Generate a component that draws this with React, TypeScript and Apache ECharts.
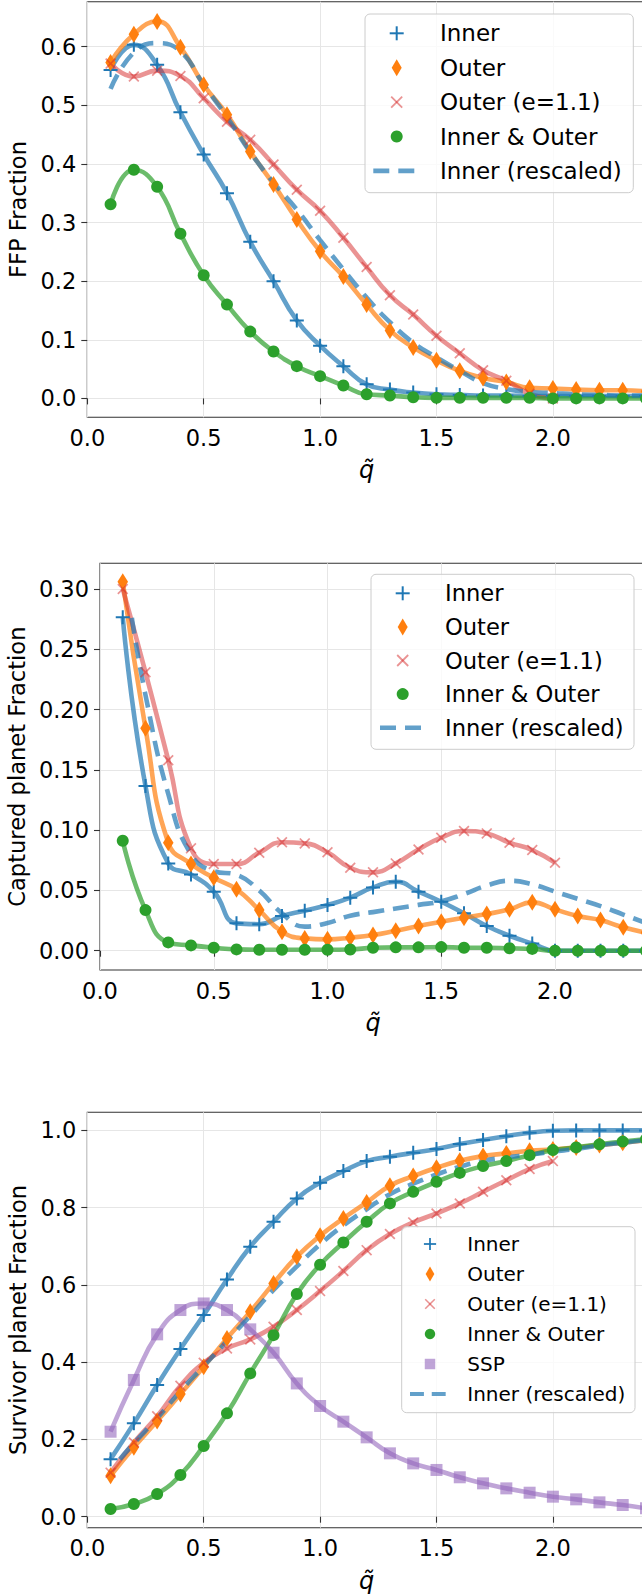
import React, { useEffect, useRef } from 'react';
import * as echarts from 'echarts';

// ---- data -------------------------------------------------------------
const Q = [0.1, 0.2, 0.3, 0.4, 0.5, 0.6, 0.7, 0.8, 0.9, 1.0, 1.1, 1.2, 1.3, 1.4, 1.5, 1.6, 1.7, 1.8, 1.9, 2.0, 2.1, 2.2, 2.3, 2.4];
const Q_E = [0.1, 0.2, 0.3, 0.4, 0.5, 0.6, 0.7, 0.8, 0.9, 1.0, 1.1, 1.2, 1.3, 1.4, 1.5, 1.6, 1.7, 1.8, 1.9, 2.0];
const Q_RESCALED_LATE = [0.14, 0.2, 0.3, 0.4, 0.5, 0.6, 0.7, 0.8, 0.9, 1.0, 1.1, 1.2, 1.3, 1.4, 1.5, 1.6, 1.7, 1.8, 1.9, 2.0, 2.1, 2.2, 2.3, 2.4];

// FFP fraction
const ffpInner = [0.56, 0.603, 0.569, 0.488, 0.416, 0.35, 0.267, 0.2, 0.133, 0.09, 0.055, 0.024, 0.015, 0.01, 0.007, 0.006, 0.005, 0.005, 0.004, 0.004, 0.004, 0.004, 0.004, 0.004];
const ffpOuter = [0.573, 0.621, 0.643, 0.599, 0.535, 0.484, 0.421, 0.365, 0.305, 0.251, 0.208, 0.16, 0.116, 0.087, 0.065, 0.047, 0.035, 0.028, 0.018, 0.017, 0.015, 0.014, 0.014, 0.012];
const ffpOuterE = [0.571, 0.549, 0.559, 0.55, 0.512, 0.472, 0.441, 0.399, 0.356, 0.32, 0.274, 0.224, 0.176, 0.143, 0.107, 0.077, 0.048, 0.03, 0.008, 0.0];
const ffpBoth = [0.331, 0.39, 0.361, 0.281, 0.21, 0.16, 0.114, 0.08, 0.055, 0.038, 0.022, 0.007, 0.005, 0.002, 0.001, 0.001, 0.001, 0.001, 0.001, 0.0, 0.0, 0.0, 0.0, 0.0];
const ffpRescaled = [0.528, 0.59, 0.606, 0.592, 0.535, 0.48, 0.42, 0.368, 0.322, 0.27, 0.22, 0.172, 0.13, 0.095, 0.07, 0.047, 0.026, 0.016, 0.011, 0.009, 0.007, 0.006, 0.005, 0.005];

// Captured planet fraction
const capInner = [0.2765, 0.1366, 0.0724, 0.0633, 0.049, 0.0227, 0.022, 0.0288, 0.0332, 0.0379, 0.044, 0.0525, 0.0572, 0.049, 0.0406, 0.031, 0.0205, 0.0124, 0.006, 0.0, 0.0, 0.0, 0.0, 0.0];
const capOuter = [0.306, 0.1844, 0.0896, 0.0719, 0.0605, 0.0509, 0.0337, 0.0158, 0.0102, 0.0094, 0.0108, 0.013, 0.0166, 0.0205, 0.024, 0.0274, 0.0304, 0.0343, 0.0401, 0.0343, 0.0288, 0.0254, 0.0194, 0.015];
const capOuterE = [0.3, 0.2309, 0.158, 0.0849, 0.0719, 0.0719, 0.0813, 0.0899, 0.089, 0.0816, 0.0688, 0.065, 0.0724, 0.084, 0.0937, 0.0993, 0.0973, 0.0896, 0.0835, 0.073];
const capBoth = [0.0912, 0.0337, 0.0069, 0.0044, 0.0025, 0.0011, 0.0008, 0.0008, 0.0008, 0.0008, 0.001, 0.0025, 0.0028, 0.0028, 0.003, 0.0025, 0.0025, 0.002, 0.0015, 0.0, 0.0, 0.0, 0.0, 0.0];
const capRescaled = [0.276, 0.212, 0.13, 0.08, 0.066, 0.063, 0.05, 0.031, 0.02, 0.023, 0.029, 0.032, 0.035, 0.038, 0.041, 0.047, 0.054, 0.058, 0.055, 0.049, 0.043, 0.037, 0.03, 0.023];

// Survivor planet fraction
const survInner = [0.149, 0.2416, 0.341, 0.434, 0.522, 0.614, 0.699, 0.7636, 0.824, 0.8646, 0.8948, 0.9206, 0.9318, 0.942, 0.9517, 0.9646, 0.975, 0.985, 0.994, 0.999, 1.0, 1.0, 1.0, 1.0];
const survOuter = [0.106, 0.1795, 0.2476, 0.3175, 0.388, 0.4616, 0.5306, 0.604, 0.673, 0.7274, 0.7722, 0.8136, 0.8568, 0.8818, 0.9034, 0.9215, 0.9336, 0.9405, 0.9474, 0.9508, 0.956, 0.962, 0.968, 0.975];
const survOuterE = [0.114, 0.192, 0.26, 0.339, 0.3986, 0.4357, 0.459, 0.4918, 0.535, 0.584, 0.636, 0.69, 0.7317, 0.7619, 0.785, 0.811, 0.841, 0.871, 0.9, 0.9206];
const survBoth = [0.0198, 0.0328, 0.0587, 0.108, 0.183, 0.2675, 0.371, 0.47, 0.5764, 0.6523, 0.71, 0.7636, 0.811, 0.841, 0.867, 0.89, 0.9077, 0.9206, 0.936, 0.949, 0.956, 0.964, 0.971, 0.977];
const survSSP = [0.22, 0.354, 0.472, 0.535, 0.552, 0.535, 0.485, 0.4245, 0.345, 0.2865, 0.246, 0.2054, 0.164, 0.138, 0.121, 0.102, 0.0863, 0.0733, 0.0621, 0.0518, 0.0449, 0.0371, 0.0302, 0.0216];
const survRescaled = [0.149, 0.19, 0.255, 0.325, 0.39, 0.455, 0.52, 0.587, 0.648, 0.705, 0.754, 0.796, 0.835, 0.862, 0.886, 0.906, 0.921, 0.93, 0.937, 0.945, 0.952, 0.961, 0.968, 0.975];

// tick labels
const X_TICKS = [0, 0.5, 1.0, 1.5, 2.0];
const Y_TICKS_FFP = [0, 0.1, 0.2, 0.3, 0.4, 0.5, 0.6];
const Y_TICKS_CAP = [0, 0.05, 0.1, 0.15, 0.2, 0.25, 0.3];
const Y_TICKS_SURV = [0, 0.2, 0.4, 0.6, 0.8, 1.0];

const LEGEND_MAIN = ['Inner', 'Outer', 'Outer (e=1.1)', 'Inner & Outer', 'Inner (rescaled)'];
const LEGEND_SURV = ['Inner', 'Outer', 'Outer (e=1.1)', 'Inner & Outer', 'SSP', 'Inner (rescaled)'];

// ---- styling ----------------------------------------------------------
const FONT = 'DejaVu Sans';
const BLUE = '#1f77b4';
const ORANGE = '#ff7f0e';
const GREEN = '#2ca02c';
const RED = '#d62728';
const PURPLE = '#9467bd';

const PLUS = 'path://M3,0 H4 V3 H7 V4 H4 V7 H3 V4 H0 V3 H3 Z';
const CROSS = 'path://M0,1.1 L1.1,0 L5,3.9 L8.9,0 L10,1.1 L6.1,5 L10,8.9 L8.9,10 L5,6.1 L1.1,10 L0,8.9 L3.9,5 Z';
const DIAMOND = 'path://M5,0 L10,8 L5,16 L0,8 Z';

const LINE_W = 4.6;

function curve(
  name: string, xs: number[], ys: number[], gi: number, color: string,
  symbol: string, symbolSize: any, lineOpacity: number, symbolOpacity: number, dashed = false,
) {
  return {
    type: 'line',
    name,
    xAxisIndex: gi,
    yAxisIndex: gi,
    data: xs.map((x, i) => [x, ys[i]]),
    smooth: 0.5,
    symbol,
    symbolSize,
    showSymbol: symbol !== 'none',
    lineStyle: { color, width: LINE_W, opacity: lineOpacity, type: dashed ? [16, 9] : 'solid', cap: 'butt' },
    itemStyle: { color, opacity: symbolOpacity, borderWidth: 0 },
    silent: true,
    emphasis: { disabled: true },
    animation: false,
  };
}

type Panel = {
  top: number; height: number; left: number; yMin: number; yMax: number;
  yTicks: number[]; digits: number; yName: string;
};

const PANELS: Panel[] = [
  { top: 1.7, height: 415.6, left: 87.3, yMin: -0.0322, yMax: 0.6766, yTicks: Y_TICKS_FFP, digits: 1, yName: 'FFP Fraction' },
  { top: 563.3, height: 406.7, left: 100, yMin: -0.016, yMax: 0.3213, yTicks: Y_TICKS_CAP, digits: 2, yName: 'Captured planet Fraction' },
  { top: 1112.3, height: 415.4, left: 87.3, yMin: -0.0285, yMax: 1.0469, yTicks: Y_TICKS_SURV, digits: 1, yName: 'Survivor planet Fraction' },
];

type LegendBox = { x: number; y: number; w: number; h: number; row0: number; step: number; mx: number; tx: number; d0: number; d1: number; fs: number; s: number };

function markerEls(kind: string, cx: number, cy: number, s: number, lb: LegendBox) {
  const z = 100;
  switch (kind) {
    case 'plus':
      return [
        { type: 'line', z, shape: { x1: cx - 7 * s, y1: cy, x2: cx + 7 * s, y2: cy }, style: { stroke: BLUE, lineWidth: 2 * s } },
        { type: 'line', z, shape: { x1: cx, y1: cy - 7 * s, x2: cx, y2: cy + 7 * s }, style: { stroke: BLUE, lineWidth: 2 * s } },
      ];
    case 'diamond':
      return [{ type: 'polygon', z, shape: { points: [[cx, cy - 8.5 * s], [cx + 5 * s, cy], [cx, cy + 8.5 * s], [cx - 5 * s, cy]] }, style: { fill: ORANGE } }];
    case 'cross':
      return [
        { type: 'line', z, shape: { x1: cx - 5.5 * s, y1: cy - 5.5 * s, x2: cx + 5.5 * s, y2: cy + 5.5 * s }, style: { stroke: RED, lineWidth: 1.8 * s, opacity: 0.5 } },
        { type: 'line', z, shape: { x1: cx - 5.5 * s, y1: cy + 5.5 * s, x2: cx + 5.5 * s, y2: cy - 5.5 * s }, style: { stroke: RED, lineWidth: 1.8 * s, opacity: 0.5 } },
      ];
    case 'circle':
      return [{ type: 'circle', z, shape: { cx, cy, r: 6 * s }, style: { fill: GREEN } }];
    case 'square':
      return [{ type: 'rect', z, shape: { x: cx - 6 * s, y: cy - 6 * s, width: 12 * s, height: 12 * s }, style: { fill: PURPLE, opacity: 0.6 } }];
    default:
      return [{ type: 'line', z, shape: { x1: lb.d0, y1: cy, x2: lb.d1, y2: cy }, style: { stroke: BLUE, lineWidth: LINE_W * s, opacity: 0.7, lineDash: [16 * s, 9 * s] } }];
  }
}

function legendEls(lb: LegendBox, labels: string[], kinds: string[]) {
  const els: any[] = [
    {
      type: 'rect', z: 99,
      shape: { x: lb.x, y: lb.y, width: lb.w, height: lb.h, r: 5 },
      style: { fill: 'rgba(255,255,255,0.8)', stroke: '#cccccc', lineWidth: 1 },
    },
  ];
  labels.forEach((t, i) => {
    const cy = lb.row0 + i * lb.step;
    els.push(...markerEls(kinds[i], lb.mx, cy, lb.s, lb));
    els.push({
      type: 'text', z: 100, x: lb.tx, y: cy,
      style: { text: t, fontSize: lb.fs, fontFamily: FONT, fill: '#000', align: 'left', verticalAlign: 'middle' },
    });
  });
  return els;
}

const LEGENDS: LegendBox[] = [
  { x: 365, y: 14, w: 268.3, h: 178.7, row0: 33.3, step: 34.4, mx: 396.7, tx: 440, d0: 373.3, d1: 416.7, fs: 23, s: 1 },
  { x: 371, y: 574.3, w: 263, h: 175, row0: 593.3, step: 33.6, mx: 402.7, tx: 445, d0: 380, d1: 421.7, fs: 22.6, s: 1 },
  { x: 401.7, y: 1226.7, w: 233.3, h: 186, row0: 1244, step: 30, mx: 430, tx: 467.3, d0: 410, d1: 450.7, fs: 20, s: 0.87 },
];

function buildOption() {
  const grid = PANELS.map((p) => ({
    left: p.left, top: p.top, height: p.height, right: -4,
    containLabel: false, outerBoundsMode: 'none',
    show: true, borderColor: '#333333', borderWidth: 1.1, backgroundColor: 'transparent',
  }));
  const tickStyle = { color: '#333333', width: 1.1 };
  const xAxis = PANELS.map((_, i) => ({
    type: 'value', gridIndex: i, min: 0, max: 2.4,
    axisLine: { show: false },
    axisTick: { show: true, length: 6, inside: false, lineStyle: tickStyle, customValues: X_TICKS },
    axisLabel: { customValues: X_TICKS, formatter: (v: number) => v.toFixed(1), fontSize: 22.5, fontFamily: FONT, color: '#000', margin: 9 },
    splitLine: { show: true, lineStyle: { color: '#e6e6e6', width: 1 } },
    name: 'q\u0303', nameLocation: 'middle', nameGap: 41,
    nameTextStyle: { fontSize: 24, fontFamily: FONT, fontStyle: 'italic', color: '#000' },
  }));
  const yAxis = PANELS.map((p, i) => ({
    type: 'value', gridIndex: i, min: p.yMin, max: p.yMax,
    axisLine: { show: false },
    axisTick: { show: true, length: 6, inside: false, lineStyle: tickStyle, customValues: p.yTicks },
    axisLabel: { customValues: p.yTicks, formatter: (v: number) => v.toFixed(p.digits), fontSize: 22.5, fontFamily: FONT, color: '#000', margin: 11 },
    splitLine: { show: true, lineStyle: { color: '#e6e6e6', width: 1 } },
    name: p.yName, nameLocation: 'middle', nameGap: p.left - 34.5, nameRotate: 90,
    nameTextStyle: { fontSize: 22.6, fontFamily: FONT, color: '#000' },
  }));

  const series = [
    // FFP
    curve('Inner', Q, ffpInner, 0, BLUE, PLUS, 14, 0.7, 1),
    curve('Outer', Q, ffpOuter, 0, ORANGE, DIAMOND, [10.5, 17], 0.7, 1),
    curve('Outer (e=1.1)', Q_E, ffpOuterE, 0, RED, CROSS, 11, 0.5, 0.5),
    curve('Inner & Outer', Q, ffpBoth, 0, GREEN, 'circle', 12, 0.7, 1),
    curve('Inner (rescaled)', Q, ffpRescaled, 0, BLUE, 'none', 0, 0.7, 0.7, true),
    // Captured
    curve('Inner', Q, capInner, 1, BLUE, PLUS, 14, 0.7, 1),
    curve('Outer', Q, capOuter, 1, ORANGE, DIAMOND, [10.5, 17], 0.7, 1),
    curve('Outer (e=1.1)', Q_E, capOuterE, 1, RED, CROSS, 11, 0.5, 0.5),
    curve('Inner & Outer', Q, capBoth, 1, GREEN, 'circle', 12, 0.7, 1),
    curve('Inner (rescaled)', Q_RESCALED_LATE, capRescaled, 1, BLUE, 'none', 0, 0.7, 0.7, true),
    // Survivor
    curve('Inner', Q, survInner, 2, BLUE, PLUS, 14, 0.7, 1),
    curve('Outer', Q, survOuter, 2, ORANGE, DIAMOND, [10.5, 17], 0.7, 1),
    curve('Outer (e=1.1)', Q_E, survOuterE, 2, RED, CROSS, 11, 0.5, 0.5),
    curve('Inner & Outer', Q, survBoth, 2, GREEN, 'circle', 12, 0.7, 1),
    curve('SSP', Q, survSSP, 2, PURPLE, 'rect', 12, 0.6, 0.6),
    curve('Inner (rescaled)', Q_RESCALED_LATE, survRescaled, 2, BLUE, 'none', 0, 0.7, 0.7, true),
  ];

  const kindsMain = ['plus', 'diamond', 'cross', 'circle', 'dash'];
  const kindsSurv = ['plus', 'diamond', 'cross', 'circle', 'square', 'dash'];
  const graphic = [
    ...legendEls(LEGENDS[0], LEGEND_MAIN, kindsMain),
    ...legendEls(LEGENDS[1], LEGEND_MAIN, kindsMain),
    ...legendEls(LEGENDS[2], LEGEND_SURV, kindsSurv),
  ];

  return {
    animation: false,
    backgroundColor: '#ffffff',
    textStyle: { fontFamily: FONT },
    grid, xAxis, yAxis, series,
    graphic: { elements: graphic },
  };
}

export default function App() {
  const ref = useRef<HTMLDivElement>(null);
  useEffect(() => {
    document.body.style.margin = '0';
    if (!ref.current) return;
    const chart = echarts.init(ref.current, undefined, { renderer: 'svg' });
    chart.setOption(buildOption() as any);
    return () => chart.dispose();
  }, []);
  return <div ref={ref} style={{ width: 642, height: 1596, background: '#fff' }} />;
}
